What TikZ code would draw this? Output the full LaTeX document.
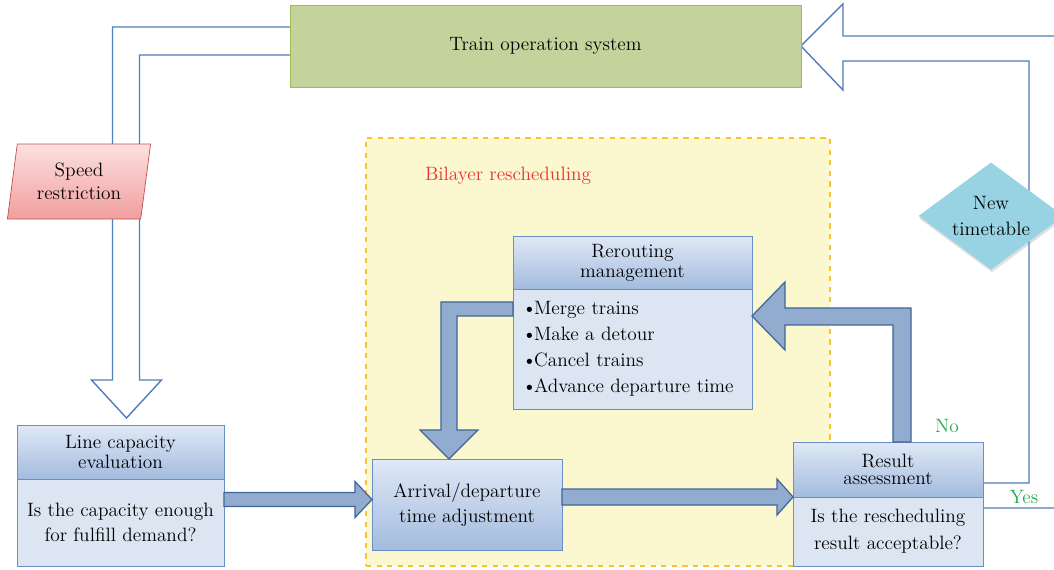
\documentclass[tikz,border=0pt]{standalone}
\usepackage{tikz}
\usepackage{xcolor}
\usetikzlibrary{
    calc,
    positioning,
    shapes.geometric,
    shadows
}
\definecolor{boxline}{RGB}{106,143,199}
\definecolor{headtop}{RGB}{224,233,246}
\definecolor{headbot}{RGB}{163,187,222}
\definecolor{bodyfill}{RGB}{220,230,242}
\definecolor{arrfill}{RGB}{146,172,208}
\definecolor{arrline}{RGB}{66,100,150}
\definecolor{thinblue}{RGB}{80,125,190}
\definecolor{tosfill}{RGB}{194,212,155}
\definecolor{tosline}{RGB}{155,187,89}
\definecolor{bilfill}{RGB}{251,247,206}
\definecolor{billine}{RGB}{250,195,50}
\definecolor{billabel}{RGB}{235,50,50}
\definecolor{spdtop}{RGB}{252,224,224}
\definecolor{spdbot}{RGB}{242,158,158}
\definecolor{spdline}{RGB}{192,80,77}
\definecolor{newtfill}{RGB}{152,211,228}
\definecolor{yesno}{RGB}{30,170,70}
\pgfdeclarelayer{background}
\pgfsetlayers{background,main}
\tikzset{
    txt/.style={font=\fontsize{11}{13}\selectfont, align=center, outer sep=0pt},
    head/.style={txt, draw=boxline, top color=headtop, bottom color=headbot,
        font=\fontsize{11}{11.5}\selectfont},
    body/.style={txt, draw=boxline, fill=bodyfill},
    blockarrow/.style={draw=arrline, fill=arrfill, line width=0.7pt},
    hollow/.style={draw=thinblue, line width=0.8pt}
}
\newcommand{\bul}{\textbullet\kern-1.5pt}
\begin{document}
\begin{tikzpicture}[x=0.02cm, y=-0.02cm]
    \useasboundingbox (0,0) rectangle (1054,569);
    \node (bil) [draw=billine, fill=bilfill, dashed, line width=0.8pt,
        minimum width=9.28cm, minimum height=8.56cm] at (598,352) {};
    \node (bill) [txt, text=billabel] at (508,176) {Bilayer rescheduling};
    \node (tos) [txt, draw=tosline, fill=tosfill, minimum width=10.22cm,
        minimum height=1.64cm] at (545.5,46) {Train operation system};
    \node (spd) [txt, trapezium, trapezium left angle=81, trapezium right angle=99,
        trapezium stretches=true, draw=spdline, top color=spdtop, bottom color=spdbot,
        minimum width=2.88cm, minimum height=1.5cm] at (79,181.5) {Speed\\restriction};
    \node (newt) [txt, diamond, aspect=1.35, inner sep=0pt, fill=newtfill,
        drop shadow={opacity=0.25, shadow xshift=0.5pt, shadow yshift=-1.5pt},
        minimum width=2.9cm, minimum height=2.14cm,
        font=\fontsize{11}{14.5}\selectfont] at (991,216) {New\\timetable};
    \node (caph) [head, minimum width=4.14cm, minimum height=1.08cm]
        at (120.5,452) {Line capacity\\evaluation};
    \node (capq) [body, below=0pt of caph, minimum width=4.14cm, minimum height=1.74cm,
        font=\fontsize{11}{14.2}\selectfont] {Is the capacity enough\\for fulfill demand?};
    \node (adj) [head, minimum width=3.8cm, minimum height=1.82cm,
        font=\fontsize{11}{14.2}\selectfont] at (467,504.5) {Arrival/departure\\time adjustment};
    \node (resh) [head, minimum width=3.8cm, minimum height=1.1cm,
        font=\fontsize{11}{9.7}\selectfont] at (888,469.5) {Result\\assessment};
    \node (resq) [body, below=0pt of resh, minimum width=3.8cm, minimum height=1.38cm,
        font=\fontsize{11}{15.4}\selectfont] {Is the rescheduling\\result acceptable?};
    \node (rerh) [head, minimum width=4.78cm, minimum height=1.06cm]
        at (632.5,262.5) {Rerouting\\management};
    \node (rerq) [body, below=0pt of rerh, minimum height=2.4cm, align=left,
        text width=4.42cm, inner xsep=0.18cm, font=\fontsize{11}{14.8}\selectfont]
        {\bul Merge trains\\\bul Make a detour\\\bul Cancel trains\\\bul Advance departure time};
    \node (yes) [txt, text=yesno] at (1024,497) {Yes};
    \node (no) [txt, text=yesno] at (947,426) {No};
    \coordinate (topend) at (1054,36);
    \coordinate (yesend) at (1054,508);
    \coordinate (t1) at ($(adj.west)+(0,-5)$);
    \coordinate (t2) at (resh.south west);
    \coordinate (t3) at ($(rerq.east)+(0,-33)$);
    \coordinate (c3) at ($(resh.north)+(14,0)$);
    \coordinate (t4) at ($(adj.north)+(-18,0)$);
    \coordinate (s4) at ($(rerq.west)+(0,-40)$);
    \coordinate (t5) at ($(caph.north)+(6,-7)$);
    \coordinate (t6) at (tos.east);
    \begin{pgfonlayer}{background}
        \draw[hollow] ($(tos.west)+(0,-19)$) -- ($(t5|-tos.west)+(-14,-19)$)
            -- ($(t5)+(-14,-38)$) -- ($(t5)+(-35,-38)$) -- (t5) -- ($(t5)+(35,-38)$)
            -- ($(t5)+(13,-38)$) -- ($(t5|-tos.west)+(13,9)$) -- ($(tos.west)+(0,9)$);
        \draw[hollow] (topend) -- ($(t6)+(42,-10)$) -- ($(t6)+(42,-42)$) -- (t6)
            -- ($(t6)+(42,44)$) -- ($(t6)+(42,15)$) -- ($(t6)+(228,15)$)
            -- ($(resh.east)+(46,13.5)$) -- ($(resh.east)+(0,13.5)$);
        \draw[hollow] ($(resq.east)+(0,-23.5)$) -- (yesend);
    \end{pgfonlayer}
    \draw[blockarrow] (t1) -- ++(-17,-18) -- ++(0,11) -- ($(capq.east|-t1)+(0,-7)$)
        -- ($(capq.east|-t1)+(0,7)$) -- ($(t1)+(-17,7)$) -- ++(0,11) -- cycle;
    \draw[blockarrow] (t2) -- ++(-16,-18) -- ++(0,10) -- ($(adj.east|-t2)+(0,-8)$)
        -- ($(adj.east|-t2)+(0,8)$) -- ($(t2)+(-16,8)$) -- ++(0,10) -- cycle;
    \draw[blockarrow] (t3) -- ++(33,-34) -- ++(0,26) -- ($(c3|-t3)+(9,-8)$)
        -- ($(c3)+(9,0)$) -- ($(c3)+(-9,0)$) -- ($(c3|-t3)+(-9,9)$)
        -- ($(t3)+(33,9)$) -- ++(0,25) -- cycle;
    \draw[blockarrow] (t4) -- ++(-29,-29) -- ++(21,0) -- ($(t4|-s4)+(-8,-7)$)
        -- ($(s4)+(0,-7)$) -- ($(s4)+(0,7)$) -- ($(t4|-s4)+(8,7)$)
        -- ($(t4)+(8,-29)$) -- ++(21,0) -- cycle;
\end{tikzpicture}
\end{document}
